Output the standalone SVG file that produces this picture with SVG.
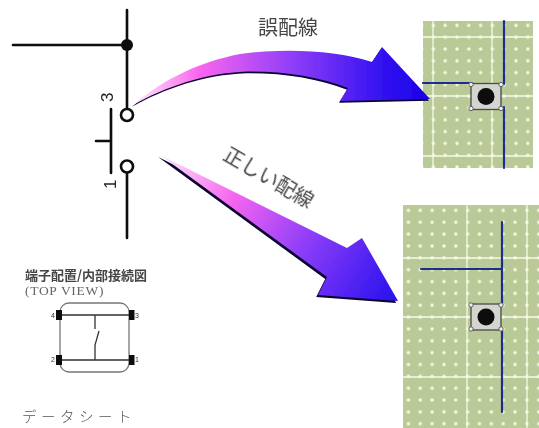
<svg xmlns="http://www.w3.org/2000/svg" width="539" height="428" viewBox="0 0 539 428">
<style>
.wire{stroke:#111;stroke-width:2.6;fill:none;stroke-linecap:round}
.blue{stroke:#1c2f8c;stroke-width:2.2;fill:none;stroke-linecap:round}
.grid{stroke:#f6fae4;stroke-width:1.3;fill:none}
.jp{font-family:"Noto Sans CJK JP","Noto Sans",sans-serif;fill:#444}
.num{font-family:"Liberation Sans",sans-serif;fill:#222}
.small{font-family:"Liberation Sans",sans-serif;font-size:7px;fill:#333}
.sch{stroke:#333;stroke-width:1.3;fill:none}
</style>
<defs>
<filter id="soft" x="-5%" y="-5%" width="110%" height="110%"><feGaussianBlur stdDeviation="0.45"/></filter>
<pattern id="dots1" patternUnits="userSpaceOnUse" x="427.500" y="19.500" width="11.800" height="11.800"><circle cx="5.900" cy="5.900" r="1.700" fill="#f8fbe0"/></pattern>
<pattern id="dots2" patternUnits="userSpaceOnUse" x="402.500" y="204.500" width="11.850" height="11.850"><circle cx="5.900" cy="5.900" r="1.700" fill="#f8fbe0"/></pattern>
<linearGradient id="g1" gradientUnits="userSpaceOnUse" x1="133" y1="0" x2="430" y2="0">
<stop offset="0" stop-color="#fdeefb"/><stop offset=".22" stop-color="#fb66ee"/><stop offset=".55" stop-color="#8a3cf8"/><stop offset=".85" stop-color="#3010f0"/><stop offset="1" stop-color="#1a00e8"/>
</linearGradient>
<linearGradient id="g2" gradientUnits="userSpaceOnUse" x1="160" y1="155" x2="398" y2="301">
<stop offset="0" stop-color="#fbeaf9"/><stop offset=".3" stop-color="#f766f0"/><stop offset=".62" stop-color="#8a3cf8"/><stop offset="1" stop-color="#2410ee"/>
</linearGradient>
<path id="a1" d="M133 105C165 78 200 62 240 54C285 48 335 50 372 62L382 47L430 99L340 101L348 88C320 77 285 71 247 71.500C205 73 165 87 133 105Z"/>
<path id="a2" d="M160 155L347 248L362 238L398 301L318 295L327 277Z"/>
<g id="btn">
<rect x="-15" y="-13" width="30" height="26" fill="#d4d4d0" stroke="#4a4a44" stroke-width="1.300"/>
<circle cx="-15" cy="-12" r="2.200" fill="#eee" stroke="#555" stroke-width=".9"/><circle cx="15" cy="-12" r="2.200" fill="#eee" stroke="#555" stroke-width=".9"/>
<circle cx="-15" cy="12" r="2.200" fill="#eee" stroke="#555" stroke-width=".9"/><circle cx="15" cy="12" r="2.200" fill="#eee" stroke="#555" stroke-width=".9"/>
<circle r="8.500" fill="#0c0c0c"/>
</g>
</defs>
<rect width="539" height="428" fill="#fff"/>
<g id="board-wrong" filter="url(#soft)">
<rect x="423" y="21" width="110" height="147" fill="#b9c998"/>
<rect x="423" y="21" width="110" height="147" fill="url(#dots1)"/>
<path class="grid" d="M433 21V168M492 21V168M423 37H533M423 96H533M423 156H533"/>
<path class="blue" d="M504 21V84M504 107V168M423 83H472"/>
<use href="#btn" x="486" y="96.500"/>
</g>
<g id="board-right" filter="url(#soft)">
<rect x="403" y="205" width="136" height="223" fill="#b9c998"/>
<rect x="403" y="205" width="136" height="223" fill="url(#dots2)"/>
<path class="grid" d="M467 205V428M527 205V428M403 258H539M403 317H539M403 377H539"/>
<path class="blue" d="M502 222V305M502 330V412M421 269H502"/>
<use href="#btn" x="486" y="317"/>
</g>
<g id="connectors" filter="url(#soft)">
<use id="arrow-wrong-shadow" href="#a1" fill="#0a0630" transform="translate(-1 1.800)"/>
<use id="arrow-wrong" href="#a1" fill="url(#g1)"/>
<use id="arrow-right-shadow" href="#a2" fill="#0a0630" transform="translate(-1.800 2)"/>
<use id="arrow-right" href="#a2" fill="url(#g2)"/>
</g>
<g id="switch" filter="url(#soft)">
<path class="wire" d="M127 10V108M13 45H127M127 173V238"/>
<circle cx="127" cy="45" r="6" fill="#111"/>
<circle cx="127" cy="115" r="6" fill="#fff" stroke="#111" stroke-width="2.600"/>
<circle cx="127" cy="166.500" r="6" fill="#fff" stroke="#111" stroke-width="2.600"/>
<path class="wire" d="M111 109V173M96 141H111"/>
<text class="num" font-size="17" transform="translate(113 102) rotate(-90)">3</text>
<text class="num" font-size="17" transform="translate(116 189) rotate(-90)">1</text>
</g>
<g id="labels" filter="url(#soft)">
<text class="jp" x="288" y="35" font-size="20" text-anchor="middle">誤配線</text>
<text class="jp" font-size="20" text-anchor="middle" transform="translate(265 184) rotate(30)">正しい配線</text>
</g>
<g id="pinout" filter="url(#soft)">
<text class="jp" x="25" y="280" font-size="13" font-weight="700">端子配置/内部接続図</text>
<text x="25" y="295" font-family="Liberation Serif,serif" font-size="13.500" letter-spacing=".7" fill="#666">(TOP VIEW)</text>
<rect x="60" y="303" width="69" height="69" rx="9" fill="none" stroke="#777" stroke-width="1.300"/>
<path class="sch" d="M59 315H131M59 360H131M95 315V329M99 331L95 345V360"/>
<rect x="56" y="310" width="6" height="10" fill="#111"/><rect x="129" y="310" width="5.500" height="10" fill="#111"/>
<rect x="56" y="355" width="6" height="10" fill="#111"/><rect x="129" y="355" width="5.500" height="10" fill="#111"/>
<text class="small" x="51" y="318">4</text><text class="small" x="135" y="318">3</text>
<text class="small" x="51" y="362">2</text><text class="small" x="135" y="362">1</text>
<text class="jp" x="22" y="422" font-size="14.500" letter-spacing="4.500" font-weight="300" style="fill:#555">データシート</text>
</g>
</svg>
